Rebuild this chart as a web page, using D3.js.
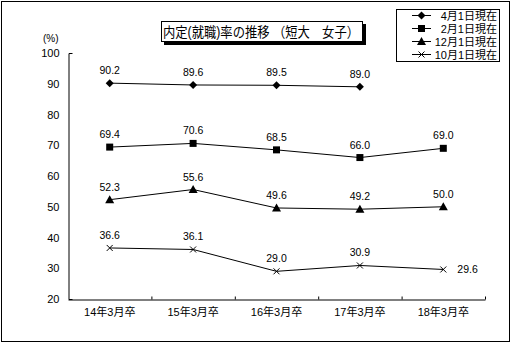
<!DOCTYPE html>
<html><head><meta charset="utf-8">
<script src="https://cdn.jsdelivr.net/npm/d3@7"></script>
<style>body{margin:0;background:#fff}svg{display:block}text{font-family:"Liberation Sans","Noto Sans CJK JP",sans-serif;fill:#000}</style>
</head><body><svg id="c" width="513" height="345"></svg>
<script>
const categories = ["14年3月卒","15年3月卒","16年3月卒","17年3月卒","18年3月卒"];
const seriesNames = ["4月1日現在","2月1日現在","12月1日現在","10月1日現在"];
const apr = [90.2, 89.6, 89.5, 89.0, null];
const feb = [69.4, 70.6, 68.5, 66.0, 69.0];
const dec = [52.3, 55.6, 49.6, 49.2, 50.0];
const oct = [36.6, 36.1, 29.0, 30.9, 29.6];
const yTicks = [20,30,40,50,60,70,80,90,100];
const titleText = "内定(就職)率の推移 （短大　女子）";

const series = [apr, feb, dec, oct];
const markers = ["diamond","square","triangle","cross"];

const svg = d3.select("#c");
const L=68, R=485, T=53, B=299;
const x = d3.scaleBand().domain(categories).range([L,R]);
const xb = d3.scaleLinear().domain([0,categories.length]).range([L,R]);
const y = d3.scaleLinear().domain([20,100]).range([B,T]);

// outer border
svg.append("rect").attr("x",1.5).attr("y",1.5).attr("width",508).attr("height",340)
  .attr("fill","none").attr("stroke","#000");

// y axis
const ya = svg.append("g").attr("transform",`translate(${L+0.5},0)`)
  .call(d3.axisLeft(y).tickValues(yTicks).tickSizeInner(0).tickSizeOuter(-4).tickPadding(9).tickFormat(d3.format("d")));
ya.selectAll("text").style("font-size","11px");
ya.select(".domain").attr("stroke","#000");
svg.append("text").attr("x",43).attr("y",42).style("font-size","10px").text("(%)");

// x axis boundary ticks
const xt = svg.append("g").attr("transform",`translate(0,${B+0.5})`)
  .call(d3.axisBottom(xb).tickValues(d3.range(1,categories.length+1)).tickSizeInner(-3).tickSizeOuter(0).tickFormat(""));
xt.select(".domain").attr("stroke","#000");
// x labels
const xl = svg.append("g").attr("transform",`translate(0,${B})`)
  .call(d3.axisBottom(x).tickSize(0).tickPadding(9));
xl.select(".domain").remove();
xl.selectAll("text").style("font-size","11px");

function drawMarker(g, type, cx, cy){
  if(type==="diamond"){
    g.append("path").attr("d",`M${cx},${cy-4}L${cx+4},${cy}L${cx},${cy+4}L${cx-4},${cy}Z`).attr("fill","#000");
  } else if(type==="square"){
    g.append("rect").attr("x",cx-3.5).attr("y",cy-3.5).attr("width",7).attr("height",7).attr("fill","#000");
  } else if(type==="triangle"){
    g.append("path").attr("d",`M${cx},${cy-4.5}L${cx+4.5},${cy+3.5}L${cx-4.5},${cy+3.5}Z`).attr("fill","#000");
  } else {
    g.append("path").attr("d",`M${cx-3},${cy-3}L${cx+3},${cy+3}M${cx-3},${cy+3}L${cx+3},${cy-3}`).attr("stroke","#000").attr("stroke-width",1);
  }
}

const line = d3.line().defined(d=>d!=null).x((d,i)=>x(categories[i])+x.bandwidth()/2).y(d=>y(d));
series.forEach((s,si)=>{
  const g = svg.append("g");
  g.append("path").datum(s).attr("d",line).attr("fill","none").attr("stroke","#000").attr("stroke-width",1);
  s.forEach((v,i)=>{
    if(v==null) return;
    const cx = x(categories[i])+x.bandwidth()/2, cy = y(v);
    drawMarker(g, markers[si], cx, cy);
    const last = (si===3 && i===categories.length-1);
    g.append("text").attr("x", last? cx+14 : cx).attr("y", last? cy+4 : cy-9)
      .attr("text-anchor", last? "start":"middle").style("font-size","10.5px").text(v.toFixed(1));
  });
});

// title box
svg.append("rect").attr("x",164).attr("y",24).attr("width",202).attr("height",21).attr("fill","#000");
svg.append("rect").attr("x",161.5).attr("y",21.5).attr("width",201).attr("height",20).attr("fill","#fff").attr("stroke","#000");
svg.append("text").attr("x",163).attr("y",37).attr("textLength",196).attr("lengthAdjust","spacingAndGlyphs")
  .style("font-size","14px").text(titleText);

// legend
svg.append("rect").attr("x",396.5).attr("y",9.5).attr("width",103).attr("height",52).attr("fill","#fff").attr("stroke","#000");
seriesNames.forEach((n,i)=>{
  const ly = 15.5 + i*13;
  const g = svg.append("g");
  g.append("line").attr("x1",412).attr("x2",431).attr("y1",ly).attr("y2",ly).attr("stroke","#000");
  drawMarker(g, markers[i], 421.5, ly);
  g.append("text").attr("x",497).attr("y",ly+4).attr("text-anchor","end").style("font-size","11px").text(n);
});
</script></body></html>
